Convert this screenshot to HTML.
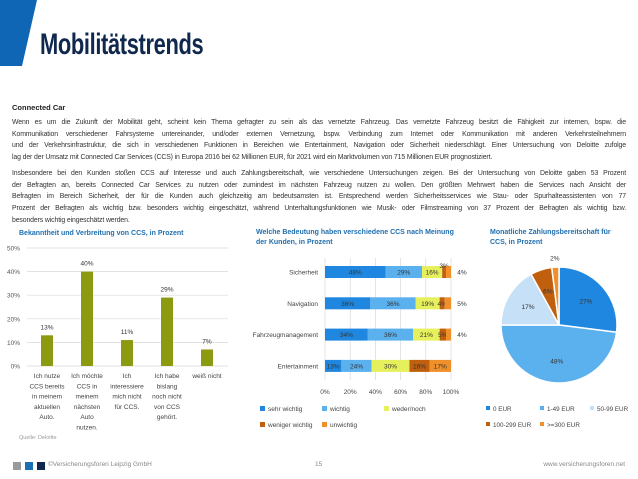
<!DOCTYPE html>
<html><head><meta charset="utf-8"><style>
body{margin:0;width:638px;height:479px;overflow:hidden;background:#fff;font-family:"Liberation Sans",sans-serif;position:relative}
.abs{position:absolute}
.p{position:absolute;left:12px;width:614px;font-size:6.9px;letter-spacing:-0.12px;line-height:11.7px;color:#333}
.p div{text-align:justify;text-align-last:justify;white-space:nowrap;height:11.7px}
.p div.l{text-align-last:left}
.ct{position:absolute;font-size:7px;font-weight:bold;color:#1f6fb0;line-height:10px}
svg text{font-family:"Liberation Sans",sans-serif}
</style></head><body>
<svg class="abs" style="left:0;top:0" width="60" height="70"><polygon points="0,0 37,0 22,66 0,66" fill="#0f66b4"/></svg>
<div class="abs" style="left:40px;top:28px;font-size:30px;font-weight:bold;color:#10284d;transform:scaleX(0.73);transform-origin:left top;letter-spacing:-0.5px">Mobilitätstrends</div>
<div class="abs" style="left:12px;top:103px;font-size:7.5px;font-weight:bold;color:#222">Connected Car</div>
<div class="p" style="top:117px">
<div>Wenn es um die Zukunft der Mobilität geht, scheint kein Thema gefragter zu sein als das vernetzte Fahrzeug. Das vernetzte Fahrzeug besitzt die Fähigkeit zur internen, bspw. die</div>
<div>Kommunikation verschiedener Fahrsysteme untereinander, und/oder externen Vernetzung, bspw. Verbindung zum Internet oder Kommunikation mit anderen Verkehrsteilnehmern</div>
<div>und der Verkehrsinfrastruktur, die sich in verschiedenen Funktionen in Bereichen wie Entertainment, Navigation oder Sicherheit niederschlägt. Einer Untersuchung von Deloitte zufolge</div>
<div class="l">lag der der Umsatz mit Connected Car Services (CCS) in Europa 2016 bei 62 Millionen EUR, für 2021 wird ein Marktvolumen von 715 Millionen EUR prognostiziert.</div>
</div>
<div class="p" style="top:168px">
<div>Insbesondere bei den Kunden stoßen CCS auf Interesse und auch Zahlungsbereitschaft, wie verschiedene Untersuchungen zeigen. Bei der Untersuchung von Deloitte gaben 53 Prozent</div>
<div>der Befragten an, bereits Connected Car Services zu nutzen oder zumindest im nächsten Fahrzeug nutzen zu wollen. Den größten Mehrwert haben die Services nach Ansicht der</div>
<div>Befragten im Bereich Sicherheit, der für die Kunden auch gleichzeitig am bedeutsamsten ist. Entsprechend werden Sicherheitsservices wie Stau- oder Spurhalteassistenten von 77</div>
<div>Prozent der Befragten als wichtig bzw. besonders wichtig eingeschätzt, während Unterhaltungsfunktionen wie Musik- oder Filmstreaming von 37 Prozent der Befragten als wichtig bzw.</div>
<div class="l">besonders wichtig eingeschätzt werden.</div>
</div>

<div class="ct" style="left:19px;top:229px">Bekanntheit und Verbreitung von CCS, in Prozent</div>
<div class="ct" style="left:256px;top:228px">Welche Bedeutung haben verschiedene CCS nach Meinung<br>der Kunden, in Prozent</div>
<div class="ct" style="left:490px;top:228px">Monatliche Zahlungsbereitschaft für<br>CCS, in Prozent</div>

<svg id="c1" class="abs" style="left:0;top:0" width="638" height="479"></svg>
<svg id="c2" class="abs" style="left:0;top:0" width="638" height="479"></svg>
<svg id="c3" class="abs" style="left:0;top:0" width="638" height="479"></svg>

<div class="abs" style="left:19px;top:435px;font-size:5.5px;color:#999">Quelle: Deloitte</div>
<div class="abs" style="left:13px;top:462px">
<span style="position:absolute;left:0;width:8px;height:8px;background:#9a9a9a"></span>
<span style="position:absolute;left:12px;width:8px;height:8px;background:#1a6fb5"></span>
<span style="position:absolute;left:24px;width:8px;height:8px;background:#10284d"></span></div>
<div class="abs" style="left:48px;top:461px;font-size:6.5px;color:#888">©Versicherungsforen Leipzig GmbH</div>
<div class="abs" style="left:315px;top:461px;font-size:6.5px;color:#888">15</div>
<div class="abs" style="right:13px;top:461px;font-size:6.5px;color:#888">www.versicherungsforen.net</div>

<script>
const NS="http://www.w3.org/2000/svg";
function mk(p,t,a,txt){const e=document.createElementNS(NS,t);for(const k in a)e.setAttribute(k,a[k]);if(txt!==undefined)e.textContent=txt;p.appendChild(e);return e;}

// Chart 1 data
const c1Cats=[["Ich nutze","CCS bereits","in meinem","aktuellen","Auto."],["Ich möchte","CCS in","meinem","nächsten","Auto","nutzen."],["Ich","interessiere","mich nicht","für CCS."],["Ich habe","bislang","noch nicht","von CCS","gehört."],["weiß nicht"]];
const c1Vals=[13,40,11,29,7];
const c1Ticks=[0,10,20,30,40,50];
(function(){
 const s=document.getElementById('c1');
 const x0=27,cw=40,yb=366,yt=248,max=50;
 const y=v=>yb-(v/max)*(yb-yt);
 c1Ticks.forEach(t=>{
  const l=mk(s,'line',{x1:x0,x2:228,y1:y(t),y2:y(t),stroke:'#d9d9d9','stroke-width':0.7});
  
  const tx=mk(s,'text',{x:20,y:y(t)+2.5,'font-size':6.5,fill:'#555','text-anchor':'end'},t+'%');
  
 });
 c1Vals.forEach((v,i)=>{
  const cx=x0+cw*i+cw/2;
  const r=mk(s,'rect',{x:cx-6,y:y(v),width:12,height:yb-y(v),fill:'#8c9a0f'});
  
  const t=mk(s,'text',{x:cx,y:y(v)-6,'font-size':6.5,fill:'#333','text-anchor':'middle'},v+'%');
  
  c1Cats[i].forEach((ln,j)=>{
   const c=mk(s,'text',{x:cx,y:378+j*10.3,'font-size':6.5,fill:'#444','text-anchor':'middle'},ln);
   
  });
 });
})();

// Chart 2 data
const c2Cats=["Sicherheit","Navigation","Fahrzeugmanagement","Entertainment"];
const c2Series=["sehr wichtig","wichtig","weder/noch","weniger wichtig","unwichtig"];
const c2Sehr=[48,36,34,13];
const c2Wichtig=[29,36,36,24];
const c2Weder=[16,19,21,30];
const c2Weniger=[3,4,5,16];
const c2Unwichtig=[4,5,4,17];
const c2Ticks=[0,20,40,60,80,100];
(function(){
 const s=document.getElementById('c2');
 const cols=['#1f87e0','#5bb0ee','#e6f05c','#c0600f','#f0902a'];
 const data=[c2Sehr,c2Wichtig,c2Weder,c2Weniger,c2Unwichtig];
 const x0=325,w=126,y0=272,dy=31.3,bh=12;
 const x=v=>x0+v/100*w;
 c2Ticks.forEach(t=>{
  const l=mk(s,'line',{x1:x(t),x2:x(t),y1:258,y2:380,stroke:'#d9d9d9','stroke-width':0.7});
  
  const tx=mk(s,'text',{x:x(t),y:394,'font-size':6.5,fill:'#444','text-anchor':'middle'},t+'%');
  
 });
 c2Cats.forEach((c,i)=>{
  const cy=y0+dy*i;
  const lb=mk(s,'text',{x:318,y:cy+2.5,'font-size':6.5,fill:'#444','text-anchor':'end'},c);
  
  let acc=0;
  data.forEach((ser,k)=>{
   const v=ser[i];
   const r=mk(s,'rect',{x:x(acc),y:cy-bh/2,width:x(acc+v)-x(acc),height:bh,fill:cols[k]});
   
   let tx=x(acc+v/2),ty=cy+2.5;
   if(v<=5&&k===4){tx=x(100)+11;}
   else if(v<=3){ty=cy-4;}
   const t=mk(s,'text',{x:tx,y:ty,'font-size':6.5,fill:'#333','text-anchor':'middle'},v+'%');
   
   acc+=v;
  });
 });
 const lx=[260,322,384,260,322],ly=[410,410,410,426,426];
 c2Series.forEach((n,k)=>{
  const g=mk(s,'g',{});
  
  mk(g,'rect',{x:lx[k],y:ly[k]-4,width:5,height:5,fill:cols[k]});
  mk(g,'text',{x:lx[k]+8,y:ly[k]+1,'font-size':6.5,fill:'#444'},n);
 });
})();

// Chart 3 data
const c3Cats=["0 EUR","1-49 EUR","50-99 EUR","100-299 EUR",">=300 EUR"];
const c3Vals=[27,48,17,6,2];
(function(){
 const s=document.getElementById('c3');
 const cols=['#1f87e0','#5bb0ee','#c5e0f7','#c0600f','#f0902a'];
 const cx=559,cy=325,r=58;
 const tot=c3Vals.reduce((a,b)=>a+b,0);
 let a=0;
 c3Vals.forEach((v,i)=>{
  const a0=a/tot*2*Math.PI,a1=(a+v)/tot*2*Math.PI;
  const p=(an,rr)=>[cx+rr*Math.sin(an),cy-rr*Math.cos(an)];
  const [x0,y0]=p(a0,r),[x1,y1]=p(a1,r);
  const path=mk(s,'path',{d:`M${cx},${cy} L${x0},${y0} A${r},${r} 0 ${(a1-a0)>Math.PI?1:0} 1 ${x1},${y1} Z`,fill:cols[i],stroke:'#fff','stroke-width':1.5});
  
  const mid=(a0+a1)/2;
  const [lx,ly]=v<=3?p(mid,r+9):p(mid,r*0.62);
  const t=mk(s,'text',{x:lx,y:ly+2.5,'font-size':6.5,fill:'#333','text-anchor':'middle'},v+'%');
  
  a+=v;
 });
 const lx=[486,540,590,486,540],ly=[410,410,410,426,426];
 c3Cats.forEach((n,k)=>{
  const g=mk(s,'g',{});
  
  mk(g,'rect',{x:lx[k],y:ly[k]-4,width:4,height:4,fill:cols[k]});
  mk(g,'text',{x:lx[k]+7,y:ly[k]+1,'font-size':6.3,fill:'#444'},n);
 });
})();
</script>
</body></html>
